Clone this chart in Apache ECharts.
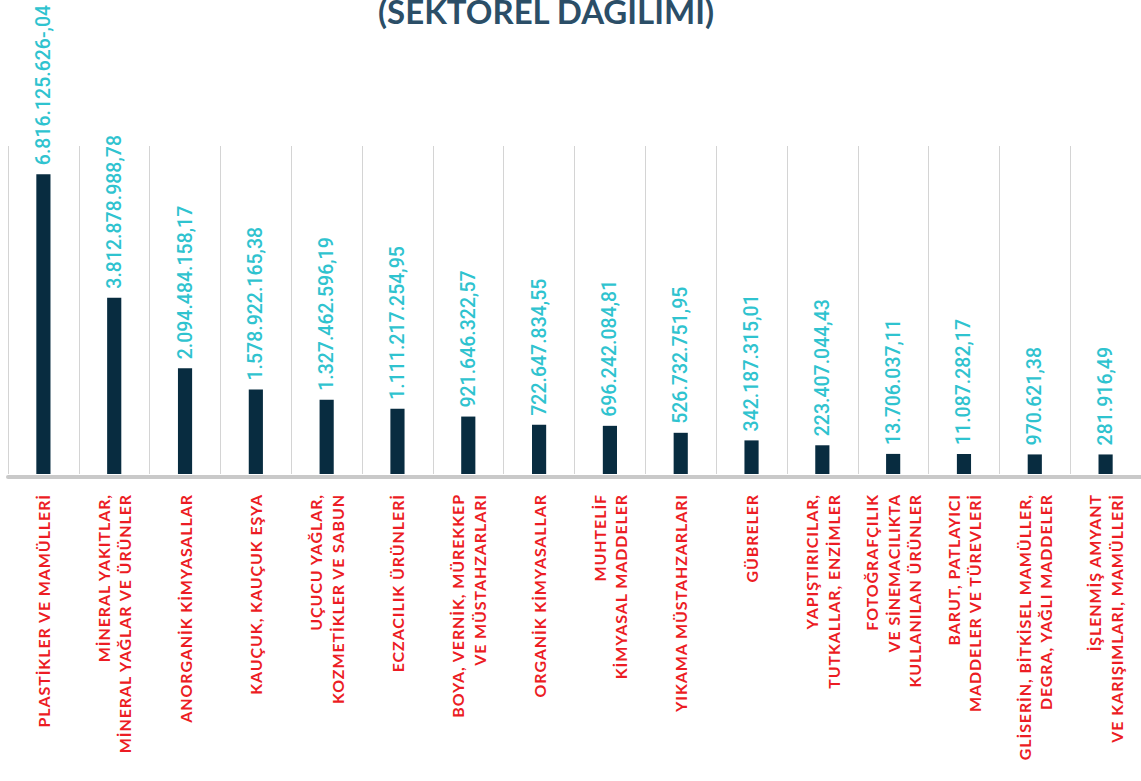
<!DOCTYPE html>
<html>
<head>
<meta charset="utf-8">
<script src="https://cdn.jsdelivr.net/npm/echarts@6/dist/echarts.min.js"></script>
<style>
  html, body { margin: 0; padding: 0; background: #fff; }
  #chart { width: 1141px; height: 781px; }
  /* kategori etiketlerinde harf aralığı */
  #chart text[fill="#ec1c24"] { letter-spacing: 0.9px; }
</style>
</head>
<body>
<div id="chart"></div>
<script>
// kategoriler
var categories = [
  'PLASTİKLER VE MAMÜLLERİ',
  'MİNERAL YAKITLAR,\nMİNERAL YAĞLAR VE ÜRÜNLER',
  'ANORGANİK KİMYASALLAR',
  'KAUÇUK, KAUÇUK EŞYA',
  'UÇUCU YAĞLAR,\nKOZMETİKLER VE SABUN',
  'ECZACILIK ÜRÜNLERİ',
  'BOYA, VERNİK, MÜREKKEP\nVE MÜSTAHZARLARI',
  'ORGANİK KİMYASALLAR',
  'MUHTELİF\nKİMYASAL MADDELER',
  'YIKAMA MÜSTAHZARLARI',
  'GÜBRELER',
  'YAPIŞTIRICILAR,\nTUTKALLAR, ENZİMLER',
  'FOTOĞRAFÇILIK\nVE SİNEMACILIKTA\nKULLANILAN ÜRÜNLER',
  'BARUT, PATLAYICI\nMADDELER VE TÜREVLERİ',
  'GLİSERİN, BİTKİSEL MAMÜLLER,\nDEGRA, YAĞLI MADDELER',
  'İŞLENMİŞ AMYANT\nVE KARIŞIMLARI, MAMÜLLERİ'
];

// değerler
var values = [
  6816125626.04, 3812878988.78, 2094484158.17, 1578922165.38,
  1327462596.19, 1111217254.95, 921646322.57, 722647834.55,
  696242084.81, 526732751.95, 342187315.01, 223407044.43,
  13706037.11, 11087282.17, 970621.38, 281916.49
];

// etiketler (orijinaldeki gibi)
var valueLabels = [
  '6.816.125.626-,04', '3.812.878.988,78', '2.094.484.158,17', '1.578.922.165,38',
  '1.327.462.596,19', '1.111.217.254,95', '921.646.322,57', '722.647.834,55',
  '696.242.084,81', '526.732.751,95', '342.187.315,01', '223.407.044,43',
  '13.706.037,11', '11.087.282,17', '970.621,38', '281.916,49'
];

var Y_MIN = -475000000;
var Y_MAX = 7500000000;

var chart = echarts.init(document.getElementById('chart'), null, { renderer: 'svg' });

chart.setOption({
  animation: false,
  title: {
    text: '(SEKTÖREL DAĞILIMI)',
    left: 373,
    top: -11,
    textStyle: { fontFamily: 'Lato', fontWeight: 'bold', fontSize: 33, color: '#2b4e67' }
  },
  grid: { left: 8, right: 0, top: 146, bottom: 307 },
  xAxis: {
    type: 'category',
    data: categories,
    offset: 3,
    axisTick: { show: false },
    axisLine: { onZero: false, lineStyle: { color: '#c9c9c9', width: 4 } },
    splitLine: { show: true, lineStyle: { color: '#d4d4d4', width: 1 } },
    axisLabel: {
      interval: 0,
      rotate: 90,
      margin: 17,
      color: '#ec1c24',
      fontFamily: 'Lato',
      fontWeight: 'bold',
      fontSize: 16,
      lineHeight: 21.5
    }
  },
  yAxis: {
    type: 'value',
    min: Y_MIN,
    max: Y_MAX,
    show: false,
    splitLine: { show: false }
  },
  series: [{
    type: 'custom',
    data: values.map(function (v, i) { return [i, v]; }),
    renderItem: function (params, api) {
      var i = api.value(0);
      var top = api.coord([i, api.value(1)]);
      var bottom = api.coord([i, Y_MIN]);
      var w = api.size([1, 0])[0] * 0.2;
      return {
        type: 'rect',
        shape: { x: top[0] - w / 2, y: top[1], width: w, height: bottom[1] - top[1] },
        style: { fill: '#082c40' },
        textContent: {
          style: {
            text: valueLabels[i],
            fill: '#2fc3cf',
            fontFamily: 'Roboto',
            fontWeight: 500,
            fontSize: 19.5,
            align: 'left',
            verticalAlign: 'middle'
          }
        },
        textConfig: { position: 'top', rotation: Math.PI / 2, distance: 9 }
      };
    }
  }]
});
</script>
</body>
</html>
